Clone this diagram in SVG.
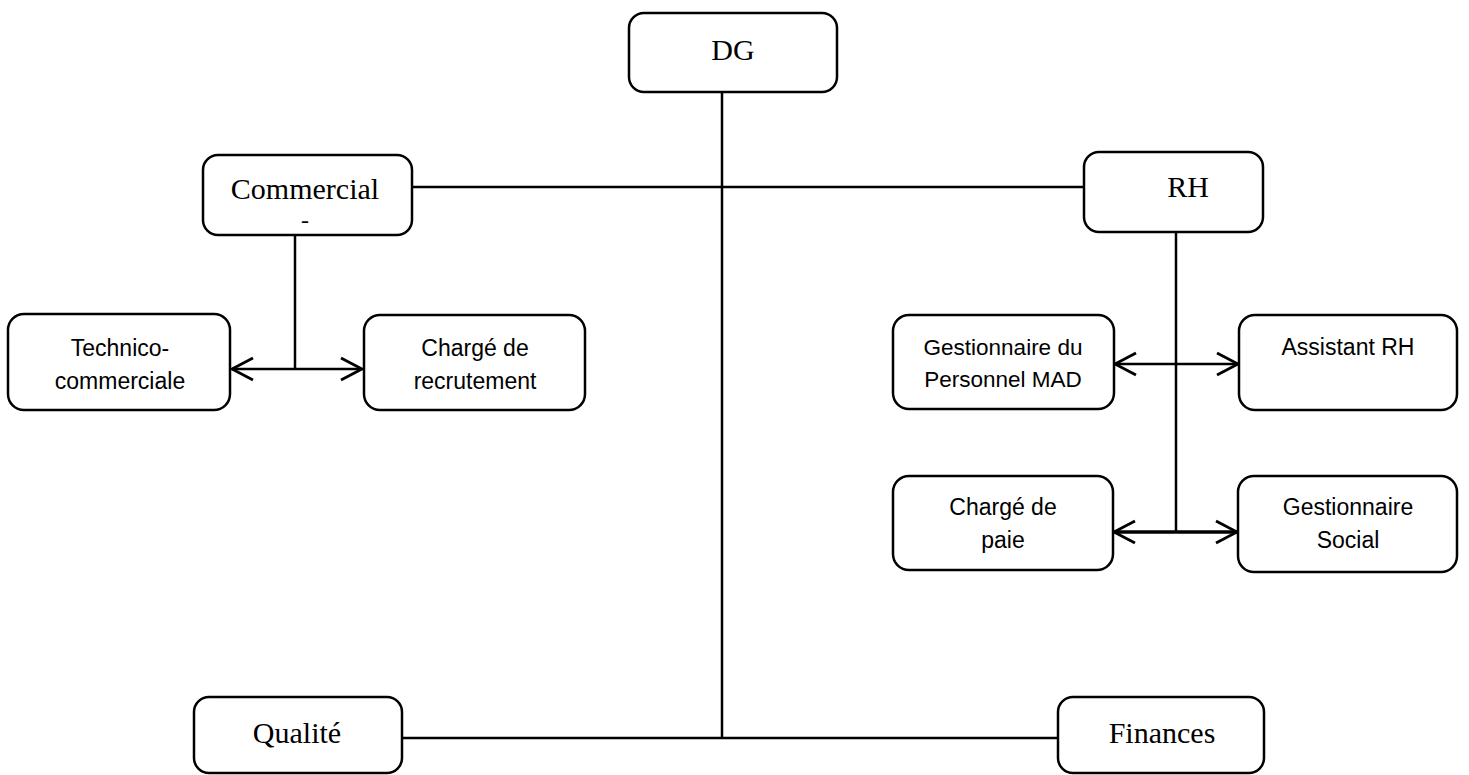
<svg xmlns="http://www.w3.org/2000/svg" width="1469" height="775" viewBox="0 0 1469 775">
<style>
.box{fill:#fff;stroke:#000;stroke-width:2.5}
.serif{font-family:"Liberation Serif","Times New Roman",serif;font-size:30px;fill:#000;text-anchor:middle}
.sans{font-family:"Liberation Sans",Arial,sans-serif;font-size:23px;fill:#000;text-anchor:middle}
.ln{stroke:#000;stroke-width:2.5;fill:none}
.thick{stroke-width:3.5}
</style>
<defs>
<marker id="arr" markerUnits="userSpaceOnUse" viewBox="-24 -13 26 26" refX="0" refY="0" markerWidth="26" markerHeight="26" orient="auto">
<path d="M-21,-11 L0,0 L-21,11" fill="none" stroke="#000" stroke-width="2.8"/>
</marker>
</defs>
<rect width="1469" height="775" fill="#fff"/>
<g id="connectors">
<line class="ln" x1="722" y1="92" x2="722" y2="738"/>
<line class="ln" x1="412" y1="187" x2="1084" y2="187"/>
<line class="ln" x1="402" y1="738" x2="1058" y2="738"/>
<line class="ln" x1="295" y1="235" x2="295" y2="369"/>
<line class="ln" x1="295" y1="369" x2="232" y2="369" marker-end="url(#arr)"/>
<line class="ln" x1="295" y1="369" x2="362" y2="369" marker-end="url(#arr)"/>
<line class="ln" x1="1176" y1="232" x2="1176" y2="532"/>
<line class="ln" x1="1176" y1="364" x2="1115" y2="364" marker-end="url(#arr)"/>
<line class="ln" x1="1176" y1="364" x2="1238" y2="364" marker-end="url(#arr)"/>
<line class="ln thick" x1="1176" y1="532" x2="1114" y2="532" marker-end="url(#arr)"/>
<line class="ln thick" x1="1176" y1="532" x2="1237" y2="532" marker-end="url(#arr)"/>
</g>
<g id="dg"><rect class="box" x="629" y="13" width="208" height="79" rx="15"/><text class="serif" x="733" y="60">DG</text></g>
<g id="commercial"><rect class="box" x="203" y="155" width="209" height="80" rx="15"/><text class="serif" x="305" y="199">Commercial</text><text class="serif" x="305" y="228" style="font-size:24px">-</text></g>
<g id="rh"><rect class="box" x="1084" y="152" width="179" height="80" rx="15"/><text class="serif" x="1188" y="197">RH</text></g>
<g id="technico"><rect class="box" x="8" y="314" width="222" height="96" rx="16"/><text class="sans" x="120" y="356">Technico-</text><text class="sans" x="120" y="389">commerciale</text></g>
<g id="charge-recrutement"><rect class="box" x="364" y="315" width="221" height="95" rx="16"/><text class="sans" x="475" y="356">Chargé de</text><text class="sans" x="475" y="389">recrutement</text></g>
<g id="gestionnaire-mad"><rect class="box" x="893" y="315" width="221" height="94" rx="16"/><text class="sans" x="1003" y="355" style="font-size:22.5px">Gestionnaire du</text><text class="sans" x="1003" y="387" style="font-size:22.5px">Personnel MAD</text></g>
<g id="assistant-rh"><rect class="box" x="1239" y="315" width="218" height="95" rx="16"/><text class="sans" x="1348" y="355">Assistant RH</text></g>
<g id="charge-paie"><rect class="box" x="893" y="476" width="220" height="94" rx="16"/><text class="sans" x="1003" y="515">Chargé de</text><text class="sans" x="1003" y="548">paie</text></g>
<g id="gestionnaire-social"><rect class="box" x="1238" y="476" width="219" height="96" rx="16"/><text class="sans" x="1348" y="515">Gestionnaire</text><text class="sans" x="1348" y="548">Social</text></g>
<g id="qualite"><rect class="box" x="194" y="697" width="208" height="76" rx="15"/><text class="serif" x="297" y="743">Qualité</text></g>
<g id="finances"><rect class="box" x="1058" y="697" width="206" height="76" rx="15"/><text class="serif" x="1162" y="743">Finances</text></g>
</svg>
